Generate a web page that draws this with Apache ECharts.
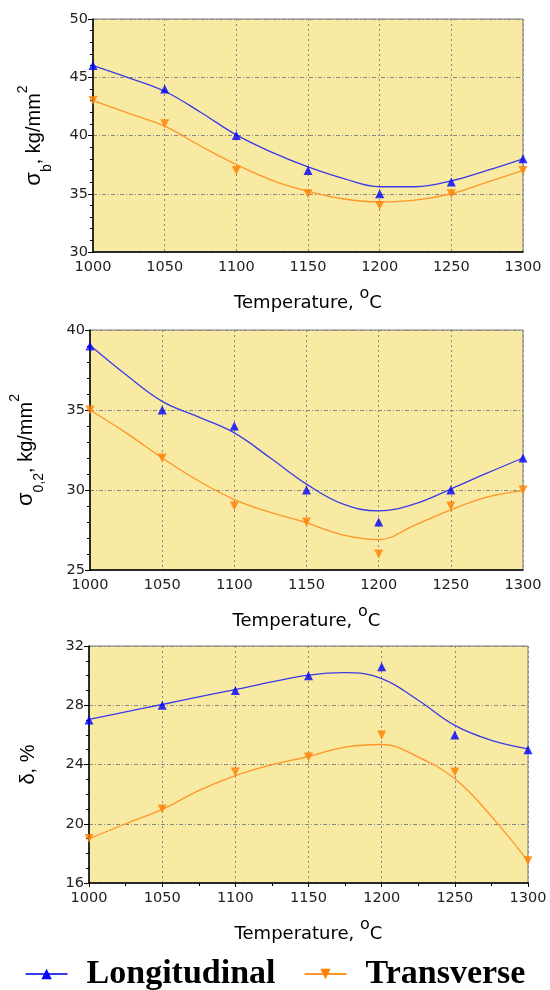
<!DOCTYPE html>
<html>
<head>
<meta charset="utf-8">
<script src="https://cdn.jsdelivr.net/npm/echarts@6/dist/echarts.min.js"></script>
<style>
  html, body { margin: 0; padding: 0; background: #fff; }
  #chart { width: 550px; height: 990px; }
</style>
</head>
<body>
<div id="chart"></div>
<script>
// temperatures of the measured points, oC
const temps = [1000, 1050, 1100, 1150, 1200, 1250, 1300];
const fitTemps = [1000, 1025, 1050, 1075, 1100, 1125, 1150, 1175, 1200, 1225, 1250, 1275, 1300];

// sigma_b, kg/mm2 (measured points + fitted curve)
const sbLong = [46, 44, 40, 37, 35, 36, 38];
const sbTrans = [43, 41, 37, 35, 34, 35, 37];
const sbLongFit = [46, 44.95, 43.8, 42, 40.05, 38.55, 37.3, 36.3, 35.6, 35.6, 36.1, 37, 38];
const sbTransFit = [43, 41.9, 40.8, 39.1, 37.5, 36.15, 35.2, 34.55, 34.3, 34.45, 35, 36, 37];

// sigma_0,2, kg/mm2
const s02Long = [39, 35, 34, 30, 28, 30, 32];
const s02Trans = [35, 32, 29, 28, 26, 29, 30];
const s02LongFit = [39.05, 37.2, 35.54, 34.57, 33.57, 32, 30.37, 29.13, 28.7, 29.13, 30.06, 31.05, 32];
const s02TransFit = [35, 33.57, 32, 30.58, 29.4, 28.6, 27.95, 27.2, 26.9, 27.8, 28.76, 29.55, 29.96];

// delta, %
const dLong = [27, 28, 29, 30, 30.6, 26, 25];
const dTrans = [19, 21, 23.5, 24.5, 26, 23.5, 17.5];
const dLongFit = [27.05, 27.55, 28.05, 28.57, 29.06, 29.58, 30.04, 30.2, 29.8, 28.34, 26.64, 25.63, 25.06];
const dTransFit = [18.98, 20, 20.97, 22.24, 23.25, 23.98, 24.54, 25.18, 25.35, 24.5, 23.03, 20.5, 17.48];

const blue = '#0000ff';
const blueLine = '#3a3ae8';
const orange = '#ff8000';
const orangeLine = '#ff9526';

const pairs = (xs, ys) => xs.map((t, i) => [t, ys[i]]);

const chart = echarts.init(document.getElementById('chart'));

const grids = [
    { left: 93, top: 19, width: 430, height: 233 },
    { left: 89, top: 330, width: 434, height: 240 },
    { left: 89, top: 646, width: 439, height: 237 }
];

const yRanges = [
    { min: 30, max: 50, interval: 5, minor: 5 },
    { min: 25, max: 40, interval: 5, minor: 5 },
    { min: 16, max: 32, interval: 4, minor: 4 }
];

const yNames = [
    '{g|σ}{sub|b}{t|, kg/mm}{sup|2}',
    '{g|σ}{sub|0,2}{t|, kg/mm}{sup|2}',
    '{t|δ, %}'
];

const nameRich = {
    g: { fontSize: 22, fontFamily: 'Liberation Sans', color: '#000', lineHeight: 28 },
    t: { fontSize: 20, fontFamily: 'Liberation Sans', color: '#000', lineHeight: 28 },
    sub: { fontSize: 14, fontFamily: 'Liberation Sans', color: '#000', verticalAlign: 'bottom', lineHeight: 28, padding: [0, 0, -6, 0] },
    sup: { fontSize: 14, fontFamily: 'Liberation Sans', color: '#000', verticalAlign: 'top', lineHeight: 28, padding: [-4, 0, 0, 0] }
};

const tickFont = { fontSize: 14.5, fontFamily: 'DejaVu Sans', color: '#222' };

const xAxes = grids.map((g, i) => ({
    type: 'value',
    gridIndex: i,
    min: 1000, max: 1300, interval: 50,
    name: 'Temperature, {o|o}C',
    nameLocation: 'middle',
    nameGap: 42,
    nameTextStyle: {
        fontSize: 18, fontFamily: 'DejaVu Sans', color: '#000',
        rich: { o: { fontSize: 16, fontFamily: 'DejaVu Sans', verticalAlign: 'top', padding: [-8, 0, 0, 0], color: '#000' } }
    },
    axisLine: { lineStyle: { color: '#000', width: 1.5 } },
    axisTick: { show: i === 2, length: 4, lineStyle: { color: '#000' } },
    minorTick: { show: i === 2, splitNumber: 2, length: 3, lineStyle: { color: '#000' } },
    axisLabel: Object.assign({ margin: 8, formatter: v => String(v) }, tickFont),
    splitLine: { show: true, lineStyle: { color: '#888', type: [2, 3] } }
}));

const yAxes = grids.map((g, i) => ({
    type: 'value',
    gridIndex: i,
    min: yRanges[i].min, max: yRanges[i].max, interval: yRanges[i].interval,
    name: yNames[i],
    nameLocation: 'middle',
    nameRotate: 90,
    nameGap: i === 0 ? 45 : (i === 1 ? 50 : 47),
    nameTextStyle: { rich: nameRich },
    axisLine: { lineStyle: { color: '#000', width: 1.5 } },
    axisTick: { show: true, length: 5, lineStyle: { color: '#000' } },
    minorTick: { show: true, splitNumber: yRanges[i].minor, length: 3, lineStyle: { color: '#000' } },
    axisLabel: Object.assign({ margin: 5 }, tickFont),
    splitLine: { show: true, lineStyle: { color: '#888', type: [4, 2, 1, 2] } }
}));

const fitSeries = (name, data, i, color) => ({
    name: name,
    type: 'line',
    xAxisIndex: i, yAxisIndex: i,
    data: pairs(fitTemps, data),
    smooth: 0.4,
    showSymbol: false,
    symbol: 'triangle',
    symbolRotate: name === 'Transverse' ? 180 : 0,
    symbolSize: 13,
    lineStyle: { color: color, width: 1.3 },
    itemStyle: { color: name === 'Transverse' ? orange : blue },
    z: 2
});

const markSeries = (name, data, i, color, down) => ({
    name: name + ' points',
    type: 'scatter',
    xAxisIndex: i, yAxisIndex: i,
    data: pairs(temps, data),
    symbol: 'triangle',
    symbolRotate: down ? 180 : 0,
    symbolSize: 9,
    itemStyle: { color: color },
    z: 3
});

const fits = [[sbLongFit, sbTransFit], [s02LongFit, s02TransFit], [dLongFit, dTransFit]];
const marks = [[sbLong, sbTrans], [s02Long, s02Trans], [dLong, dTrans]];

const series = [];
fits.forEach((f, i) => {
    series.push(fitSeries('Longitudinal', f[0], i, blueLine));
    series.push(fitSeries('Transverse', f[1], i, orangeLine));
    series.push(markSeries('Longitudinal', marks[i][0], i, blue, false));
    series.push(markSeries('Transverse', marks[i][1], i, orange, true));
});

chart.setOption({
    animation: false,
    backgroundColor: '#fff',
    grid: grids.map(g => Object.assign({
        show: true,
        backgroundColor: '#f8eaa2',
        borderColor: '#777',
        borderWidth: 1
    }, g)),
    xAxis: xAxes,
    yAxis: yAxes,
    legend: {
        data: ['Longitudinal', 'Transverse'],
        left: 'center',
        top: 952,
        itemWidth: 42,
        itemHeight: 13,
        itemGap: 28,
        textStyle: { fontSize: 34, fontWeight: 'bold', fontFamily: 'Liberation Serif', color: '#000', padding: [0, 0, 0, 14] }
    },
    series: series
});
</script>
</body>
</html>
